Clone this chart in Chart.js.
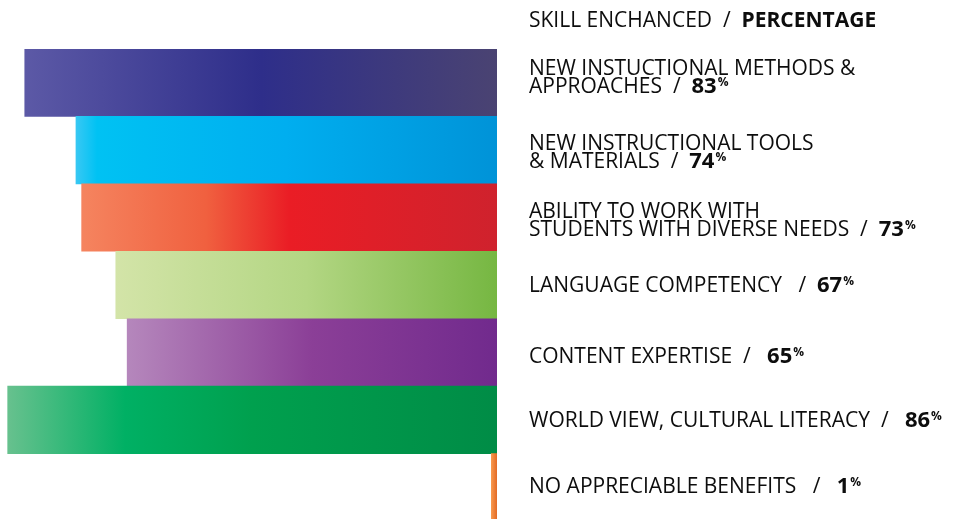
<!DOCTYPE html>
<html>
<head>
<meta charset="utf-8">
<script src="https://cdn.jsdelivr.net/npm/chart.js@4/dist/chart.umd.min.js"></script>
<style>
  html, body { margin: 0; padding: 0; background: #ffffff; overflow: hidden; }
  #wrap { width: 959px; height: 522px; }
</style>
</head>
<body>
<div id="wrap"><canvas id="c" width="959" height="522"></canvas></div>
<script>
// ---- data ----
const headerLeft = "SKILL ENCHANCED  /  ";
const headerRight = "PERCENTAGE";
const categories = [
  "NEW INSTUCTIONAL METHODS &\nAPPROACHES  /  ",
  "NEW INSTRUCTIONAL TOOLS\n& MATERIALS  /  ",
  "ABILITY TO WORK WITH\nSTUDENTS WITH DIVERSE NEEDS  /  ",
  "LANGUAGE COMPETENCY   /  ",
  "CONTENT EXPERTISE  /   ",
  "WORLD VIEW, CULTURAL LITERACY  /   ",
  "NO APPRECIABLE BENEFITS   /   "
];
const values = [83, 74, 73, 67, 65, 86, 1];
const valueSuffix = "%";

// ---- styles ----
const gradientStops = [
  [[0, '#5c59a6'], [0.5, '#2e2e8a'], [1, '#4a4372']],
  [[0, '#38c8f3'], [0.05, '#00c2f3'], [0.5, '#00aeef'], [1, '#0093d8']],
  [[0, '#f5845f'], [0.3, '#f0603f'], [0.5, '#ea1d25'], [1, '#cf222d']],
  [[0, '#d3e4a8'], [0.5, '#b3d683'], [1, '#76b742']],
  [[0, '#b587bc'], [0.5, '#8b3f97'], [1, '#712a8d']],
  [[0, '#67c18e'], [0.24, '#00b064'], [0.5, '#00a04e'], [1, '#008c46']],
  [[0, '#f8984c'], [1, '#e36a25']]
];
const labelNudge = [-6, 1, 2, -1, 3, 0, -2];
const FONT = '"Open Sans", "DejaVu Sans", sans-serif';
const FS = 21;

function barFill(c) {
  const chart = c.chart;
  const stops = gradientStops[c.dataIndex] || gradientStops[0];
  if (!chart.chartArea || c.type !== 'data') return stops[0][1];
  const xs = chart.scales.x;
  const a = xs.getPixelForValue(c.raw);
  const b = xs.getPixelForValue(0);
  const g = chart.ctx.createLinearGradient(Math.min(a, b), 0, Math.max(a, b), 0);
  stops.forEach(s => g.addColorStop(s[0], s[1]));
  return g;
}

const labelPlugin = {
  id: 'labels',
  afterDraw(chart) {
    const ctx = chart.ctx;
    const ys = chart.scales.y;
    const textX = 529;
    const cap = 15;
    const lineH = 18;
    ctx.save();
    ctx.fillStyle = '#0d0d0d';
    ctx.textBaseline = 'alphabetic';
    ctx.textAlign = 'left';
    // header
    let hb = 19 + cap / 2;
    ctx.font = `400 ${FS}px ${FONT}`;
    ctx.fillText(headerLeft, textX, hb);
    let w = ctx.measureText(headerLeft).width;
    ctx.font = `700 ${FS}px ${FONT}`;
    ctx.fillText(headerRight, textX + w, hb);
    // items
    categories.forEach((cat, i) => {
      const lines = cat.split('\n');
      const cy = ys.getPixelForValue(i) + (labelNudge[i] || 0);
      const blockH = (lines.length - 1) * lineH + cap;
      let base = cy - blockH / 2 + cap;
      lines.forEach((ln, k) => {
        const by = base + k * lineH;
        ctx.font = `400 ${FS}px ${FONT}`;
        ctx.fillText(ln, textX, by);
        if (k === lines.length - 1) {
          let x = textX + ctx.measureText(ln).width;
          ctx.font = `700 ${FS + 1}px ${FONT}`;
          const vs = String(values[i]);
          ctx.fillText(vs, x, by);
          x += ctx.measureText(vs).width + 1;
          ctx.font = `700 12px ${FONT}`;
          ctx.fillText(valueSuffix, x, by - cap + 8);
        }
      });
    });
    ctx.restore();
  }
};

new Chart(document.getElementById('c'), {
  type: 'bar',
  data: {
    labels: categories,
    datasets: [{
      data: values,
      backgroundColor: barFill,
      borderWidth: 0,
      barPercentage: 1,
      categoryPercentage: 1
    }]
  },
  options: {
    indexAxis: 'y',
    responsive: false,
    devicePixelRatio: 1,
    animation: false,
    layout: { padding: { left: 0, right: 462, top: 49, bottom: 1 } },
    plugins: { legend: { display: false }, tooltip: { enabled: false } },
    scales: {
      x: { display: false, reverse: true, min: 0, max: 87.35 },
      y: { display: false }
    }
  },
  plugins: [labelPlugin]
});
</script>
</body>
</html>
